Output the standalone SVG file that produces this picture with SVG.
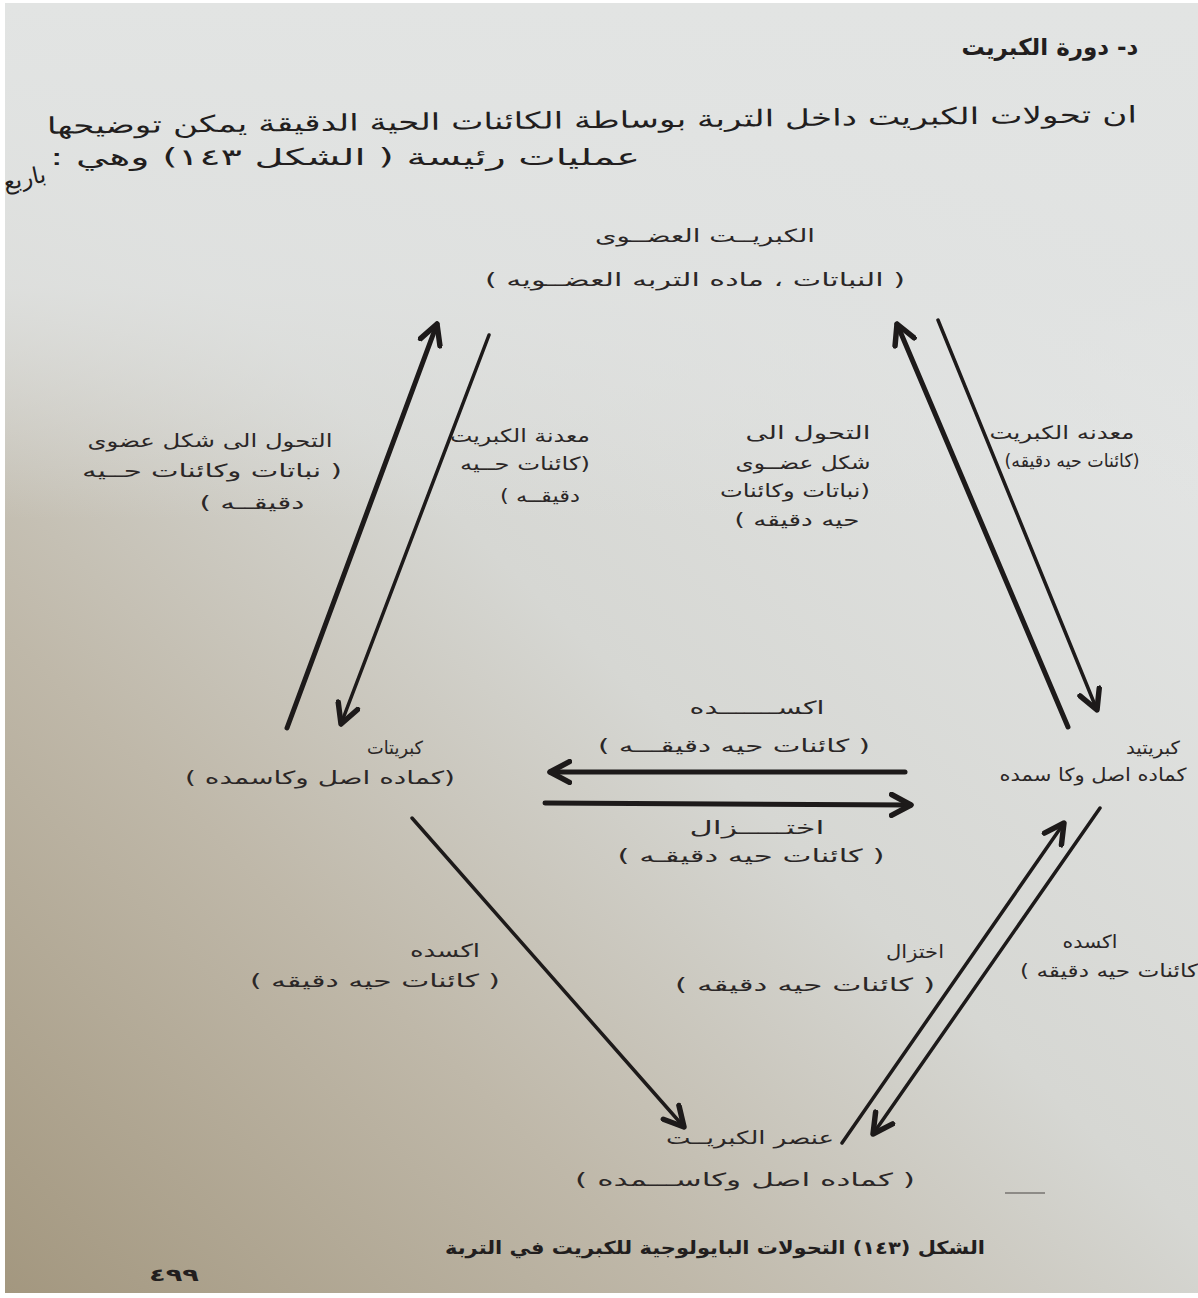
<svg xmlns="http://www.w3.org/2000/svg" width="1198" height="1298" viewBox="0 0 1198 1298">
<defs>
<linearGradient id="page" x1="0" y1="1" x2="0.85" y2="0.05">
<stop offset="0" stop-color="#a3977f"/>
<stop offset="0.3" stop-color="#bfb8a9"/>
<stop offset="0.55" stop-color="#d6d7d3"/>
<stop offset="1" stop-color="#e6e8e8"/>
</linearGradient>
<linearGradient id="topfade" x1="0" y1="0" x2="0" y2="1">
<stop offset="0" stop-color="#e2e4e3" stop-opacity="1"/>
<stop offset="0.22" stop-color="#e0e2e1" stop-opacity="0.85"/>
<stop offset="0.4" stop-color="#e0e2e1" stop-opacity="0"/>
</linearGradient>
<marker id="ah" viewBox="0 0 20 20" refX="17" refY="10" markerWidth="26" markerHeight="26" markerUnits="userSpaceOnUse" orient="auto">
<path d="M2,2 L17,10 L2,18" fill="none" stroke="#1d1a1a" stroke-width="4.2" stroke-linecap="round" stroke-linejoin="round"/>
</marker>
<style>
text{direction:rtl;unicode-bidi:embed}
.t{font-family:"DejaVu Sans","Noto Sans",sans-serif;fill:#2b2727;font-size:18px;text-anchor:middle}
.h{font-family:"DejaVu Sans","Noto Sans",sans-serif;fill:#221e1e;font-size:23px;text-anchor:middle}
.cap{font-family:"DejaVu Sans","Noto Sans",sans-serif;fill:#221e1e;font-size:18px;font-weight:bold;text-anchor:middle}
.ln{stroke:#1d1a1a;fill:none;stroke-linecap:round;marker-end:url(#ah)}
.thick{stroke-width:5}
.mid{stroke-width:3.5}
</style>
</defs>
<rect x="0" y="0" width="1198" height="1298" fill="#ffffff"/>
<rect x="5" y="3" width="1193" height="1290" fill="url(#page)"/>
<rect x="5" y="3" width="1193" height="1290" fill="url(#topfade)"/>

<g id="header">
<text class="h" x="1050" y="55" font-weight="bold">د- دورة الكبريت</text>
<text class="h" x="592" y="128" textLength="1090" lengthAdjust="spacingAndGlyphs" transform="rotate(-0.6 592 128)">ان تحولات الكبريت داخل التربة بوساطة الكائنات الحية الدقيقة يمكن توضيحها</text>
<text class="h" x="345" y="165" textLength="590" lengthAdjust="spacingAndGlyphs">عمليات رئيسة ( الشكل ١٤٣) وهي :</text>
<text class="h" x="26" y="186" font-size="18" transform="rotate(-12 26 186)">باربع</text>
</g>

<g id="connectors">
<line class="ln thick" x1="287" y1="728" x2="437" y2="324"/>
<line class="ln mid" x1="489" y1="335" x2="341" y2="724"/>
<line class="ln thick" x1="1068" y1="727" x2="897" y2="324"/>
<line class="ln mid" x1="938" y1="320" x2="1097" y2="710"/>
<line class="ln thick" x1="905" y1="772" x2="550" y2="772"/>
<line class="ln thick" x1="545" y1="803" x2="911" y2="805"/>
<line class="ln mid" x1="412" y1="818" x2="684" y2="1127"/>
<line class="ln mid" x1="842" y1="1143" x2="1064" y2="823"/>
<line class="ln mid" x1="1100" y1="808" x2="873" y2="1134"/>
</g>

<g id="node-organic">
<text class="t" x="705" y="242" textLength="220" lengthAdjust="spacingAndGlyphs">الكبريــت العضــوى</text>
<text class="t" x="695" y="286" textLength="420" lengthAdjust="spacingAndGlyphs">( النباتات ، ماده  التربه العضــويه )</text>
</g>
<g id="node-sulfate">
<text class="t" x="395" y="754" font-size="21" textLength="56" lengthAdjust="spacingAndGlyphs">كبريتات</text>
<text class="t" x="320" y="784" textLength="270" lengthAdjust="spacingAndGlyphs">(كماده  اصل وكاسمده )</text>
</g>
<g id="node-sulfide">
<text class="t" x="1153" y="754" font-size="21" textLength="54" lengthAdjust="spacingAndGlyphs">كبريتيد</text>
<text class="t" x="1093" y="781" textLength="187" lengthAdjust="spacingAndGlyphs">كماده اصل وكا سمده</text>
</g>
<g id="node-element">
<text class="t" x="750" y="1144" textLength="168" lengthAdjust="spacingAndGlyphs">عنصر الكبريــت</text>
<text class="t" x="745" y="1186" textLength="340" lengthAdjust="spacingAndGlyphs">( كماده  اصل وكاســـمده )</text>
</g>

<g id="edge-labels">
<text class="t" x="210" y="447" textLength="245" lengthAdjust="spacingAndGlyphs">التحول الى شكل عضوى</text>
<text class="t" x="212" y="477" textLength="260" lengthAdjust="spacingAndGlyphs">( نباتات وكائنات حــيه</text>
<text class="t" x="252" y="509" textLength="105" lengthAdjust="spacingAndGlyphs">دقيقــه )</text>
<text class="t" x="520" y="442" textLength="140" lengthAdjust="spacingAndGlyphs">معدنة الكبريت</text>
<text class="t" x="525" y="470" textLength="130" lengthAdjust="spacingAndGlyphs">(كائنات حــيه</text>
<text class="t" x="540" y="502" textLength="80" lengthAdjust="spacingAndGlyphs">دقيقــه )</text>
<text class="t" x="808" y="439" textLength="125" lengthAdjust="spacingAndGlyphs">التحول الى</text>
<text class="t" x="803" y="469" textLength="135" lengthAdjust="spacingAndGlyphs">شكل عضــوى</text>
<text class="t" x="795" y="497" textLength="150" lengthAdjust="spacingAndGlyphs">(نباتات وكائنات</text>
<text class="t" x="797" y="526" textLength="125" lengthAdjust="spacingAndGlyphs">حيه دقيقه )</text>
<text class="t" x="1062" y="439" textLength="145" lengthAdjust="spacingAndGlyphs">معدنه الكبريت</text>
<text class="t" x="1072" y="467" textLength="135" lengthAdjust="spacingAndGlyphs">(كائنات حيه دقيقه)</text>
<text class="t" x="757" y="714" textLength="135" lengthAdjust="spacingAndGlyphs">اكســـــــده</text>
<text class="t" x="734" y="752" textLength="272" lengthAdjust="spacingAndGlyphs">( كائنات حيه دقيقـــه )</text>
<text class="t" x="757" y="834" textLength="135" lengthAdjust="spacingAndGlyphs">اختـــــزال</text>
<text class="t" x="751" y="862" textLength="267" lengthAdjust="spacingAndGlyphs">( كائنات حيه  دقيقـه )</text>
<text class="t" x="445" y="957" textLength="70" lengthAdjust="spacingAndGlyphs">اكسده</text>
<text class="t" x="375" y="987" textLength="250" lengthAdjust="spacingAndGlyphs">( كائنات حيه دقيقه )</text>
<text class="t" x="915" y="958" font-size="20" textLength="58" lengthAdjust="spacingAndGlyphs">اختزال</text>
<text class="t" x="805" y="991" textLength="260" lengthAdjust="spacingAndGlyphs">( كائنات حيه  دقيقه )</text>
<text class="t" x="1090" y="948" font-size="20" textLength="55" lengthAdjust="spacingAndGlyphs">اكسده</text>
<text class="t" x="1109" y="977" textLength="178" lengthAdjust="spacingAndGlyphs">كائنات حيه دقيقه )</text>
</g>

<g id="caption">
<line x1="1005" y1="1193" x2="1045" y2="1193" stroke="#4a4644" stroke-width="1.2"/>
<text class="cap" x="715" y="1254" textLength="540" lengthAdjust="spacingAndGlyphs">الشكل (١٤٣) التحولات البايولوجية للكبريت في التربة</text>
<text class="cap" x="174" y="1281" font-size="20" textLength="50" lengthAdjust="spacingAndGlyphs">٤٩٩</text>
</g>
</svg>
